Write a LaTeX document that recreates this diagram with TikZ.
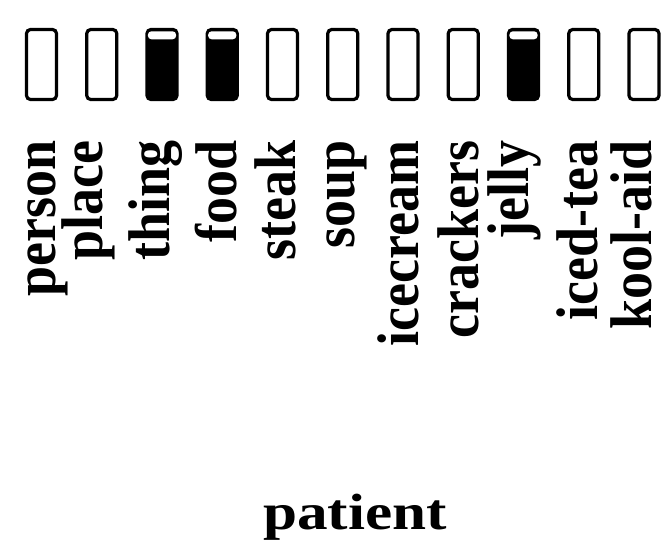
\documentclass[tikz,border=0pt]{standalone}
\usepackage{fontspec}
\setmainfont{Liberation Serif}

\begin{document}
\begin{tikzpicture}[x=1pt,y=1pt]
\tikzstyle{unit}=[draw, line width=3.2pt, rounded corners=4pt, minimum width=30pt, minimum height=70pt, inner sep=0pt]
\tikzstyle{active}=[unit, fill=black]
\tikzstyle{slot}=[fill=white, rounded corners=3.5pt]
\tikzstyle{unitlabel}=[rotate=90, anchor=base east, inner sep=0pt, font=\bfseries\fontsize{54}{54}\selectfont]
\useasboundingbox (0,0) rectangle (665,-552);
% one unit per word, label baseline x given by hand
\foreach \word/\lx/\on [count=\i from 0] in {person/55/0, place/102/0, thing/169/1, food/236/1, steak/295/0, soup/354/0, icecream/418/0, crackers/478/0, jelly/528/1, iced-tea/597/0, kool-aid/651/0}{
  \ifnum\on=1
    \node[active] (u-\word) at (41.5+60.25*\i, -64.5) {};
    \path[slot] ([xshift=2.5pt, yshift=-3.4pt]u-\word.north west) rectangle ([xshift=-2.5pt, yshift=-11.4pt]u-\word.north east);
  \else
    \node[unit] (u-\word) at (41.5+60.25*\i, -64.5) {};
  \fi
  \node[unitlabel] (l-\word) at (\lx, -140) {\scalebox{1}[1.09]{\word}};
}
\node[anchor=base, inner sep=0pt, font=\bfseries\fontsize{51}{51}\selectfont] (role) at (355, -529) {\scalebox{1.2}[1]{patient}};
\end{tikzpicture}
\end{document}
